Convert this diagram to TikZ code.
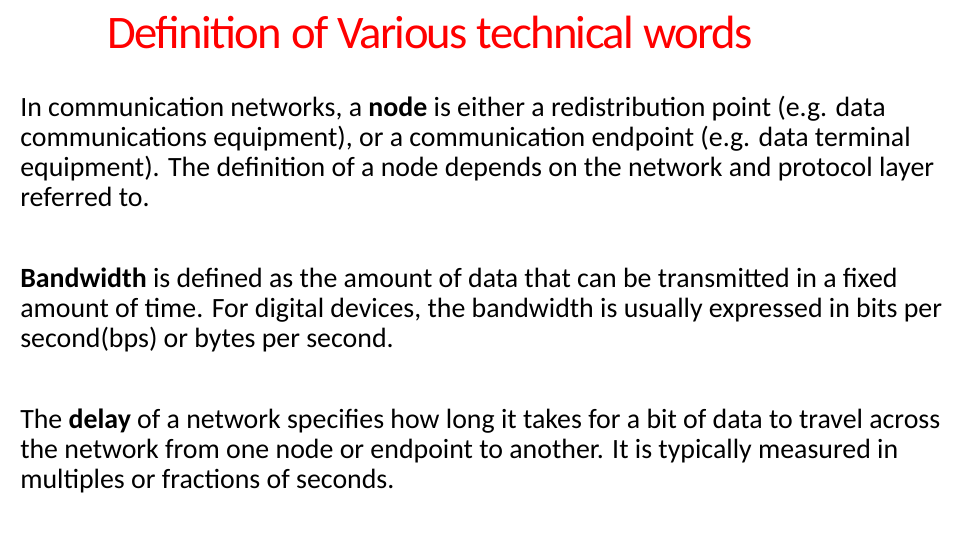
\documentclass[tikz,border=0pt]{standalone}
\usepackage{fontspec}
\setmainfont{Carlito}
\usetikzlibrary{positioning}
\definecolor{titlered}{RGB}{255,0,0}
\begin{document}
\begin{tikzpicture}[x=0.75pt,y=-0.75pt,
  para/.style={anchor=base west,align=left,inner sep=0pt,font=\fontsize{20.9}{22.5}\selectfont},
  heading/.style={anchor=base west,inner sep=0pt,text=titlered,font=\fontsize{35}{40}\selectfont\addfontfeature{LetterSpace=-3.5}}]
\useasboundingbox (0,0) rectangle (960,540);
\node[heading] (title) at (107,48) {Definition of Various technical words};
% anchors sit on the last line of each paragraph
\node[para] (node) at (20,206) {In communication networks, a \textbf{node} is either a redistribution point (e.g. data\\communications equipment), or a communication endpoint (e.g. data terminal\\equipment). The definition of a node depends on the network and protocol layer\\referred to.};
\node[para] (bandwidth) at (20,347) {\textbf{Bandwidth} is defined as the amount of data that can be transmitted in a fixed\\amount of time. For digital devices, the bandwidth is usually expressed in bits per\\second(bps) or bytes per second.};
\node[para] (delay) at (20,488) {The \textbf{delay} of a network specifies how long it takes for a bit of data to travel across\\the network from one node or endpoint to another. It is typically measured in\\multiples or fractions of seconds.};
\end{tikzpicture}
\end{document}
